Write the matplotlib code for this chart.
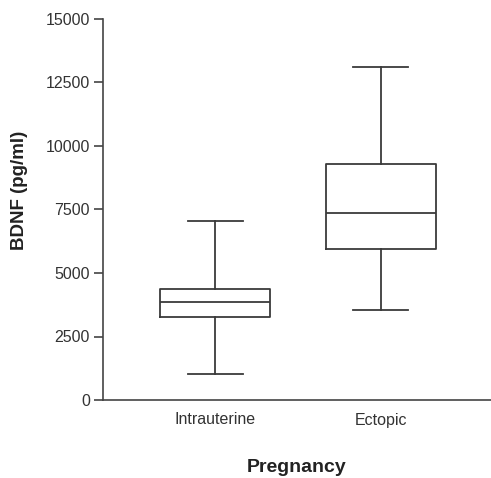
import matplotlib
matplotlib.use("Agg")
import matplotlib.pyplot as plt

plt.rcParams.update({
    "font.family": ["Liberation Sans", "DejaVu Sans"],
    "axes.linewidth": 1.2,
    "axes.edgecolor": "#444444",
})

groups = ["Intrauterine", "Ectopic"]
whisker_low = [1040, 3530]
q1 = [3255, 5945]
median = [3845, 7350]
q3 = [4355, 9290]
whisker_high = [7060, 13100]
y_ticks = [0, 2500, 5000, 7500, 10000, 12500, 15000]

stats = []
for i, name in enumerate(groups):
    stats.append({"label": name, "whislo": whisker_low[i], "q1": q1[i], "med": median[i],
                  "q3": q3[i], "whishi": whisker_high[i], "fliers": []})

fig = plt.figure(figsize=(4.91, 4.78), dpi=100)
ax = fig.add_axes([103 / 491, 1 - 400 / 478, 388 / 491, 381 / 478])

line = dict(color="#3a3a3a", linewidth=1.3)
ax.bxp(stats, positions=[1, 2], widths=0.663, showfliers=False,
       boxprops=line, whiskerprops=line, capprops=line, medianprops=line)

ax.set_xlim(0.325, 2.663)
ax.set_ylim(0, 15000)
ax.set_yticks(y_ticks)
ax.set_yticklabels([str(t) for t in y_ticks])
for spine in ("top", "right"):
    ax.spines[spine].set_visible(False)

ax.tick_params(axis="y", length=6.5, width=1.2, color="#444444", pad=3,
               labelsize=11.5, labelcolor="#333333")
ax.tick_params(axis="x", length=0, pad=9, labelsize=11.5, labelcolor="#333333")

ax.set_ylabel("BDNF (pg/ml)", fontsize=13.5, fontweight="bold", color="#222222")
ax.yaxis.set_label_coords(-0.193, 0.549)
ax.set_xlabel("Pregnancy", fontsize=14, fontweight="bold", color="#222222")
ax.xaxis.set_label_coords(0.5, -0.155)

fig.savefig("out.png", dpi=100)
